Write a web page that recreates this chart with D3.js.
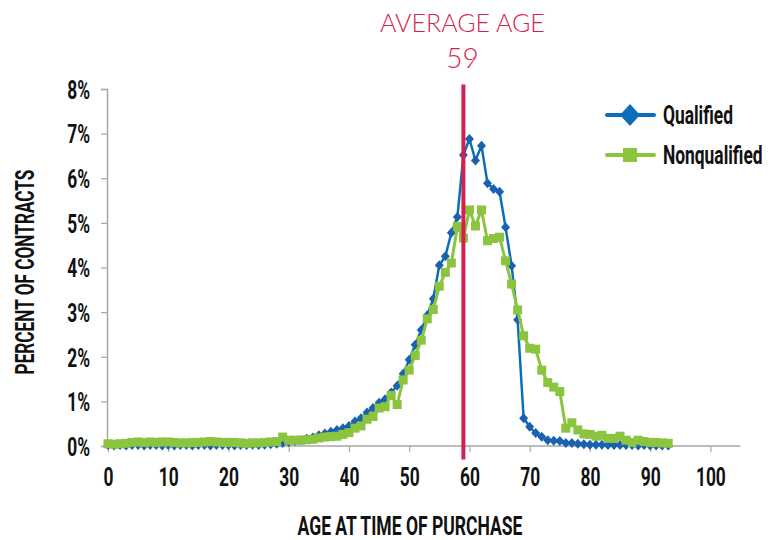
<!DOCTYPE html>
<html><head><meta charset="utf-8">
<script src="https://cdn.jsdelivr.net/npm/d3@7"></script>
<style>
html,body{margin:0;padding:0;background:#fff;}
svg{display:block;}
.cond{font-family:Roboto,"DejaVu Sans",sans-serif;font-weight:700;}
</style></head>
<body>
<svg id="c" width="775" height="540"></svg>
<script>
const ages = d3.range(0, 94);
const qualified = [
0.02,0.01,0.02,0.01,0.02,0.02,0.01,0.02,0.02,0.01,
0.02,0.01,0.02,0.02,0.01,0.02,0.02,0.01,0.02,0.02,
0.02,0.01,0.02,0.02,0.03,0.02,0.03,0.04,0.05,0.07,
0.09,0.11,0.13,0.16,0.19,0.24,0.28,0.32,0.36,0.40,
0.45,0.55,0.62,0.75,0.85,0.97,1.05,1.20,1.35,1.62,
1.93,2.27,2.60,2.93,3.30,4.05,4.25,4.78,5.13,6.52,
6.88,6.40,6.73,5.89,5.76,5.70,4.90,4.04,2.83,0.62,
0.43,0.29,0.21,0.13,0.12,0.11,0.07,0.07,0.05,0.04,
0.03,0.03,0.03,0.02,0.02,0.02,0.02,0.02,0.01,0.02,
0.01,0.01,0.01,0.01];
const nonqualified = [
0.05,0.04,0.05,0.06,0.08,0.09,0.08,0.09,0.08,0.09,
0.09,0.08,0.07,0.07,0.08,0.08,0.09,0.10,0.09,0.08,
0.08,0.08,0.07,0.06,0.07,0.07,0.08,0.09,0.10,0.20,
0.13,0.13,0.13,0.14,0.15,0.18,0.20,0.21,0.22,0.26,
0.30,0.40,0.45,0.60,0.66,0.85,0.88,1.13,0.93,1.48,
1.70,2.03,2.37,2.85,3.06,3.58,3.89,4.10,4.92,4.66,
5.29,4.93,5.29,4.60,4.65,4.68,4.15,3.63,3.05,2.47,
2.19,2.17,1.70,1.42,1.32,1.22,0.40,0.52,0.36,0.27,
0.26,0.22,0.24,0.17,0.17,0.22,0.13,0.08,0.13,0.10,
0.08,0.08,0.07,0.06];
const xTicks = [0,10,20,30,40,50,60,70,80,90,100];
const yTicks = [0,1,2,3,4,5,6,7,8];
const seriesNames = ["Qualified","Nonqualified"];
const averageAge = 59;
const titleLines = ["AVERAGE AGE","59"];

const BLUE = "#0a6fb8", BLUE_M = "#1a62b0", GREEN = "#8bc43f", RED = "#d41f4f";
const FS = 26;
const svg = d3.select("#c");
const x = d3.scaleLinear().domain([0,105]).range([108,740.5]);
const y = d3.scaleLinear().domain([0,8]).range([446,89]);

const tmp = svg.append("text").attr("class","cond").attr("font-size",FS).text("Qualified");
const S = 70 / tmp.node().getComputedTextLength();
tmp.remove();
function squeeze(sel, s){
  sel.each(function(){
    const t = d3.select(this);
    const X = +t.attr("x") || 0;
    t.attr("x", X / s).attr("transform", (t.attr("transform") || "") + ` scale(${s},1)`);
  });
}
function fitTo(sel, w){
  const nat = sel.node().getComputedTextLength();
  squeeze(sel, w / nat);
}

// axes
const gx = svg.append("g").attr("transform",`translate(0,${y(0)})`)
  .call(d3.axisBottom(x).tickValues(xTicks).tickSize(6).tickPadding(16).tickFormat(d3.format("d")));
const gy = svg.append("g").attr("transform",`translate(${x(0)-1},0)`)
  .call(d3.axisLeft(y).tickValues(yTicks).tickSize(6).tickPadding(11).tickFormat(d=>d+"%"));
[gx,gy].forEach(g=>{
  g.attr("font-family",null).attr("font-size",null);
  g.select(".domain").attr("stroke","#a6a6a6").attr("stroke-width",1.5);
  g.selectAll(".tick line").attr("stroke","#a6a6a6").attr("stroke-width",1.2);
  g.selectAll("text").attr("class","cond").attr("font-size",FS).attr("fill","#111");
});
gx.select(".domain").attr("d",`M${x(0)-1},0H${x(105)}`);
gx.selectAll(".tick text").attr("dy","0.71em");
gy.selectAll(".tick text").attr("dy","0.36em");
squeeze(gx.selectAll(".tick text"), S);
squeeze(gy.selectAll(".tick text"), S);

// axis titles
const xt = svg.append("text").attr("class","cond").attr("x",410).attr("y",535)
  .attr("text-anchor","middle").attr("font-size",FS).attr("fill","#111")
  .text("AGE AT TIME OF PURCHASE");
fitTo(xt, 225);
const yt = svg.append("text").attr("class","cond").attr("transform","translate(34,272) rotate(-90)")
  .attr("text-anchor","middle").attr("font-size",FS).attr("fill","#111")
  .text("PERCENT OF CONTRACTS");
fitTo(yt, 205);

// series
const line = d3.line().x(d=>x(d[0])).y(d=>y(d[1]));
const qData = ages.map((a,i)=>[a,qualified[i]]);
const nData = ages.map((a,i)=>[a,nonqualified[i]]);

svg.append("path").datum(qData).attr("d",line).attr("fill","none").attr("stroke",BLUE).attr("stroke-width",2.5).attr("stroke-linejoin","round");
const diamond = "M0,-5L4.5,0L0,5L-4.5,0Z";
svg.append("g").selectAll("path").data(qData).join("path")
  .attr("transform",d=>`translate(${x(d[0])},${y(d[1])})`).attr("d",diamond).attr("fill",BLUE_M);

svg.append("path").datum(nData).attr("d",line).attr("fill","none").attr("stroke",GREEN).attr("stroke-width",3).attr("stroke-linejoin","round");
svg.append("g").selectAll("rect").data(nData).join("rect")
  .attr("x",d=>x(d[0])-4.5).attr("y",d=>y(d[1])-4.5).attr("width",9).attr("height",9).attr("fill",GREEN);

// average line
svg.append("line").attr("x1",x(averageAge)).attr("x2",x(averageAge))
  .attr("y1",y(8.1)).attr("y2",y(-0.3)).attr("stroke",RED).attr("stroke-width",4);
svg.append("text").attr("x",x(averageAge)-1).attr("y",32).attr("text-anchor","middle")
  .attr("font-family","Lato, 'Open Sans', sans-serif").attr("font-weight",300).attr("font-size",25).attr("fill",RED)
  .text(titleLines[0]);
svg.append("text").attr("x",x(averageAge)-1).attr("y",68).attr("text-anchor","middle")
  .attr("font-family","Lato, 'Open Sans', sans-serif").attr("font-weight",300).attr("font-size",28).attr("fill",RED)
  .text(titleLines[1]);

// legend
const lg = svg.append("g");
[0,1].forEach(i=>{
  const yy = 115 + i*40;
  lg.append("line").attr("x1",607).attr("x2",654).attr("y1",yy).attr("y2",yy)
    .attr("stroke",i?GREEN:BLUE).attr("stroke-width",4).attr("stroke-linecap","round");
  if(i===0) lg.append("path").attr("transform",`translate(630,${yy})`).attr("d","M0,-11L10,0L0,11L-10,0Z").attr("fill",BLUE);
  else lg.append("rect").attr("x",623).attr("y",yy-7).attr("width",14).attr("height",14).attr("fill",GREEN);
  const t = lg.append("text").attr("class","cond").attr("x",663).attr("y",yy).attr("dy","0.36em")
    .attr("font-size",FS).attr("fill","#111").text(seriesNames[i]);
  squeeze(t, S);
});
</script>
</body></html>
